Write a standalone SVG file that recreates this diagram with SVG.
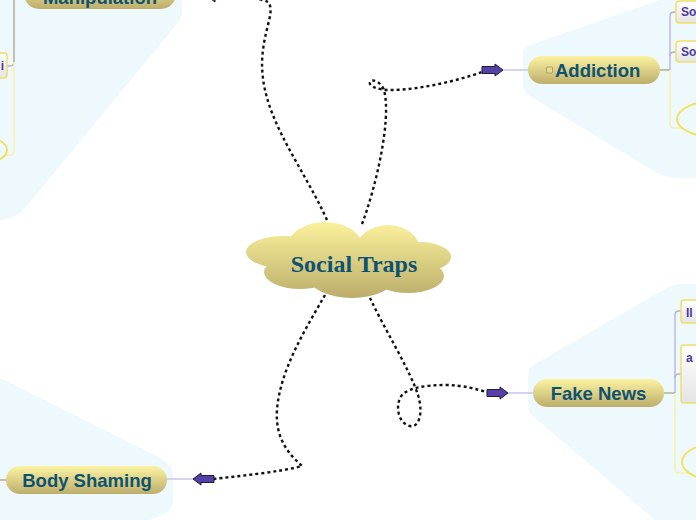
<svg xmlns="http://www.w3.org/2000/svg" xmlns:xlink="http://www.w3.org/1999/xlink" width="696" height="520" viewBox="0 0 696 520">
<style>
.bg{fill:#eef9fe}
.pill{fill:url(#pillG)}
.lbl{font-family:"Liberation Sans",Arial,sans-serif;font-weight:bold;font-size:18.5px;fill:#0e5272}
.sub{font-family:"Liberation Sans",Arial,sans-serif;font-weight:bold;font-size:12px;fill:#4a3a9e}
.box{fill:url(#boxG);stroke:#f0e066;stroke-width:1.5}
.dot{fill:none;stroke:#111;stroke-width:2.4;stroke-dasharray:3 3}
.thin{fill:none;stroke:#c8c3ea;stroke-width:1.5}
.gray{fill:none;stroke:#b5ae8a;stroke-width:1.5}
.lav{fill:none;stroke:#b4b0e0;stroke-width:1.3}
.yel{fill:none;stroke:#f7f0a8;stroke-width:1.5}
.ell{fill:none;stroke:#f2e25e;stroke-width:2}
.arr{fill:#5640a6;stroke:#1d1a3a;stroke-width:1}
</style>
<defs>
<linearGradient id="pillG" x1="0" y1="0" x2="0" y2="1"><stop offset="0" stop-color="#fcf3a2"/><stop offset="1" stop-color="#bdae6b"/></linearGradient>
<linearGradient id="cloudG" gradientUnits="userSpaceOnUse" x1="0" y1="222" x2="0" y2="298"><stop offset="0" stop-color="#fbf29c"/><stop offset="1" stop-color="#bbad6a"/></linearGradient>
<linearGradient id="boxG" x1="0" y1="0" x2="0" y2="1"><stop offset="0" stop-color="#ffffff"/><stop offset="1" stop-color="#e4e4e4"/></linearGradient>
<path id="arrR" class="arr" d="M0,-3.5 H13 V-6 L21,0 L13,6 V3.5 H0 Z"/>
</defs>

<!-- background regions -->
<path class="bg" d="M0,0 L182,0 L182,12 Q182,18 177,24 L25,208 Q15,220 0,220 Z"/>
<path class="bg" d="M660,0 L530,45 Q523,48 523,55 L523,85 Q523,92 530,96 L655,172 Q665,178 680,178 L696,178 L696,0 Z"/>
<path class="bg" d="M696,284 L680,284 Q672,284 665,289 L535,364 Q528,368 528,376 L528,405 Q528,413 535,418 L655,520 L696,520 Z"/>
<path class="bg" d="M0,378 L160,458 Q173,465 173,475 L173,500 Q173,508 166,513 L150,520 L0,520 Z"/>

<!-- connectors -->
<g id="connectors">
<path class="dot" d="M327,220 C300,160 255,110 263,50 C266,25 275,10 268,2 C260,-2 245,-2 230,-3"/>
<path class="dot" d="M362,224 C375,190 392,120 384,90 C381,82 372,78 370,82 C368,86 378,90 390,90 C420,90 460,80 482,72"/>
<path class="dot" d="M370,298 C385,330 410,370 418,395 C424,415 418,428 410,426 C400,424 395,410 400,398 C405,388 425,385 445,385 C465,385 478,390 487,392"/>
<path class="dot" d="M325,295 C305,330 280,370 277,410 C275,440 290,455 302,466 C280,472 240,476 213,479"/>
<path class="thin" d="M503,70 H528"/>
<path class="thin" d="M508,393 H533"/>
<path class="thin" d="M167,479 H193"/>
<use xlink:href="#arrR" transform="translate(482,70)"/>
<use xlink:href="#arrR" transform="translate(487,393)"/>
<use xlink:href="#arrR" transform="translate(214,479) rotate(180)"/>
<use xlink:href="#arrR" transform="translate(228,-4) rotate(180)"/>
</g>

<!-- central topic -->
<g id="social-traps">
<g fill="url(#cloudG)">
<ellipse cx="283" cy="252" rx="37" ry="16"/>
<ellipse cx="325" cy="248" rx="38" ry="26"/>
<ellipse cx="388" cy="250" rx="32" ry="25"/>
<ellipse cx="420" cy="257" rx="31" ry="15"/>
<ellipse cx="300" cy="272" rx="36" ry="17"/>
<ellipse cx="352" cy="276" rx="44" ry="22"/>
<ellipse cx="408" cy="276" rx="36" ry="17"/>
<ellipse cx="350" cy="262" rx="80" ry="22"/>
</g>
<text x="354" y="272" text-anchor="middle" font-family="Liberation Serif,Times New Roman,serif" font-weight="bold" font-size="24" fill="#0e5272">Social Traps</text>
</g>

<!-- Manipulation -->
<g id="manipulation">
<rect class="pill" x="24" y="-22" width="152" height="31" rx="15"/>
<text class="lbl" x="100" y="4" text-anchor="middle">Manipulation</text>
<path class="gray" d="M14,0 V62"/>
<path class="lav" d="M14,62 Q14,66 10,66 H7"/>
<path class="yel" d="M14,62 V151 Q14,155 10,155 H7"/>
<rect class="box" x="-20" y="53" width="27" height="25" rx="3"/>
<text class="sub" x="4" y="70" text-anchor="end">i</text>
<ellipse class="ell" cx="-30" cy="150" rx="37" ry="16"/>
</g>

<!-- Addiction -->
<g id="addiction">
<rect class="pill" x="528" y="56" width="132" height="28" rx="14"/>
<rect x="546.5" y="67" width="6" height="6" rx="1" fill="#e8dc90" stroke="#a89e70" stroke-width="1"/>
<text class="lbl" x="555" y="77">Addiction</text>
<path class="gray" d="M660,70 H670"/>
<path class="lav" d="M670,70 V16 Q670,12 674,12 H676"/>
<path class="lav" d="M670,56 Q670,52 674,52 H676"/>
<path class="yel" d="M670,70 V124 Q670,128 674,128 H682"/>
<rect class="box" x="676" y="1" width="40" height="22" rx="3"/>
<text class="sub" x="681" y="16">So</text>
<rect class="box" x="676" y="41" width="40" height="21" rx="3"/>
<text class="sub" x="681" y="56">So</text>
<ellipse class="ell" cx="721" cy="119" rx="44" ry="19"/>
</g>

<!-- Fake News -->
<g id="fake-news">
<rect class="pill" x="533" y="379" width="131" height="28" rx="14"/>
<text class="lbl" x="598.5" y="400" text-anchor="middle">Fake News</text>
<path class="gray" d="M664,393 H675"/>
<path class="lav" d="M675,393 V315 Q675,311 679,311 H681"/>
<path class="lav" d="M675,378 Q675,374 679,374 H681"/>
<path class="yel" d="M675,393 V469 Q675,473 679,473 H688"/>
<rect class="box" x="681" y="300" width="40" height="23" rx="3"/>
<text class="sub" x="686" y="317">Il</text>
<rect class="box" x="681" y="345" width="40" height="58" rx="3"/>
<text class="sub" x="686" y="362">a</text>
<ellipse class="ell" cx="725" cy="462" rx="43" ry="20"/>
</g>

<!-- Body Shaming -->
<g id="body-shaming">
<path class="gray" d="M0,480 H6"/>
<rect class="pill" x="6" y="466" width="161" height="28" rx="14"/>
<text class="lbl" x="87" y="487" text-anchor="middle">Body Shaming</text>
</g>
</svg>
